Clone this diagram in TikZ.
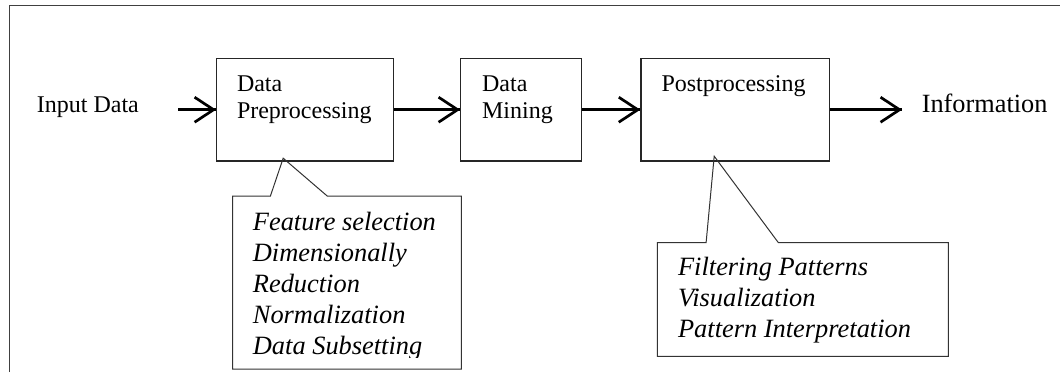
\documentclass[tikz,border=0pt]{standalone}
\usepackage{fontspec}
\setmainfont{Liberation Serif}
\usepackage{tikz}
\usetikzlibrary{arrows.meta}
\usetikzlibrary{decorations.markings}
\usetikzlibrary{positioning}
\tikzset{flow/.style = {line width = 1.35pt,
                        decoration={markings,
                                    mark=at position 1 with {\arrow{Straight Barb[length=9.5pt, width=12.5pt]}}},
                        postaction={decorate}}}
\tikzset{stage/.style = {draw = black!85, line width = 0.65pt, minimum height = 51.2pt, inner sep = 0}}
\tikzset{txt/.style = {anchor = base west, inner sep = 0, align = left,
                       font = \fontsize{12}{13.5}\selectfont}}
\tikzset{note/.style = {anchor = base west, inner sep = 0, align = left,
                        font = \fontsize{13.2}{15.5}\selectfont\itshape}}
\tikzset{callout/.style = {draw = black!80, line width = 0.5pt, line join = miter}}
\tikzset{frame/.style = {draw = black!75, line width = 0.75pt}}

\begin{document}
\begin{tikzpicture}[x=0.5pt, y=-0.5pt]
    \useasboundingbox (0, 0) rectangle (1060, 372);
    \draw [frame] (9.5, 372) -- (9.5, 5.6) -- (1060, 5.6);
    \node [stage, minimum width = 88.35pt] (pre) at (305.05, 109.7) {};
    \node [stage, minimum width = 60.35pt] (mine) at (521.05, 109.7) {};
    \node [stage, minimum width = 94.3pt] (post) at (735.2, 109.7) {};
    \node [txt] (pretext) at (236.6, 118.3) {Data\\Preprocessing};
    \node [txt] (minetext) at (481.7, 118.3) {Data\\Mining};
    \node [txt] (posttext) at (661.1, 91.3) {Postprocessing};
    \node [txt] (input) at (36.5, 112.6) {Input Data};
    \node [txt, font = \fontsize{13.15}{15}\selectfont] (info) at (921.4, 112.6) {Information};
    \coordinate (start) at (178, 109.7);
    \coordinate (finish) at (902, 109.7);
    \draw [flow] (start) -- (pre.west);
    \draw [flow] (pre.east) -- (mine.west);
    \draw [flow] (mine.east) -- (post.west);
    \draw [flow] (post.east) -- (finish);
    \coordinate (tipA) at (283.2, 158.2);
    \coordinate (tipB) at (714.2, 156.2);
    \draw [callout] (270.4, 196) -- (tipA) -- (327.2, 196) -- (461.4, 196)
        -- (461.4, 369) -- (232.5, 369) -- (232.5, 196) -- cycle;
    \draw [callout] (706.1, 242.7) -- (tipB) -- (778.4, 242.7) -- (948.4, 242.7)
        -- (948.4, 356.3) -- (657.4, 356.3) -- (657.4, 242.7) -- cycle;
    \begin{scope}
      \clip (232.5, 196) rectangle (461.4, 357.5);
      \node [note] (prenote) at (252.5, 354.9)
        {Feature selection\\Dimensionally\\Reduction\\Normalization\\Data Subsetting};
    \end{scope}
    \node [note, font = \fontsize{13.2}{15.4}\selectfont\itshape] (postnote) at (677.7, 337)
      {Filtering Patterns\\Visualization\\Pattern Interpretation};
  \end{tikzpicture}
\end{document}
